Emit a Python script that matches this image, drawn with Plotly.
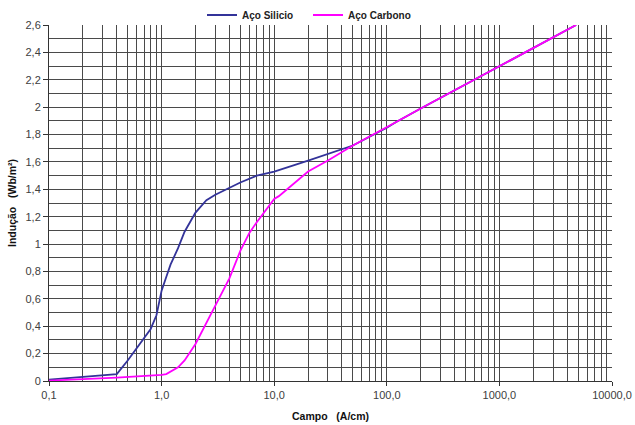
import plotly.graph_objects as go

# Data
si_h = [0.1, 0.4, 0.5, 0.6, 0.7, 0.8, 0.9, 1.0, 1.1, 1.2, 1.4, 1.6, 2.0, 2.5, 3.0, 4.0, 5.0, 7.0, 10.0, 20.0, 50.0, 100.0, 120.0, 200.0, 4800.0]
si_b = [0.01, 0.05, 0.15, 0.24, 0.31, 0.38, 0.48, 0.66, 0.76, 0.85, 0.97, 1.09, 1.23, 1.32, 1.36, 1.41, 1.45, 1.50, 1.53, 1.61, 1.72, 1.85, 1.89, 1.99, 2.60]

cs_h = [0.1, 0.4, 1.0, 1.1, 1.4, 1.6, 2.0, 2.5, 3.0, 4.0, 5.0, 6.0, 7.0, 10.0, 11.0, 20.0, 30.0, 50.0, 100.0, 120.0, 200.0, 4800.0]
cs_b = [0.003, 0.024, 0.045, 0.05, 0.10, 0.15, 0.27, 0.43, 0.55, 0.75, 0.95, 1.08, 1.16, 1.33, 1.35, 1.53, 1.61, 1.72, 1.85, 1.89, 1.99, 2.60]

x_major = [0.1, 1, 10, 100, 1000, 10000]
x_labels = ["0,1", "1,0", "10,0", "100,0", "1000,0", "10000,0"]
y_major = [round(0.2 * i, 1) for i in range(14)]
y_labels = [("%g" % v).replace(".", ",") for v in y_major]

x_minor = [m * 10 ** e for e in range(-1, 4) for m in range(1, 10) if not (e == -1 and m == 1)]
y_minor = [round(0.1 * i, 1) for i in range(1, 26)]

FONT = "Liberation Sans, Arial, sans-serif"
GRID = "#4a4a4a"
NB = "\u00a0"

fig = go.Figure()
fig.add_trace(go.Scatter(x=si_h, y=si_b, mode="lines", name="Aço Silicio",
                         line=dict(color="#333399", width=1.8)))
fig.add_trace(go.Scatter(x=cs_h, y=cs_b, mode="lines", name="Aço Carbono",
                         line=dict(color="#FF00FF", width=1.8)))

fig.update_layout(
    width=635, height=425,
    margin=dict(l=49, r=23, t=25, b=44, autoexpand=False),
    paper_bgcolor="white", plot_bgcolor="white",
    font=dict(family=FONT, size=11, color="#404040"),
    showlegend=True,
    legend=dict(orientation="h", x=202 / 635, y=1 - 15 / 425, xref="container", yref="container",
                xanchor="left", yanchor="middle",
                font=dict(family=FONT, size=10, color="#222222", weight="bold"),
                bgcolor="rgba(0,0,0,0)", itemwidth=30, tracegroupgap=0,
                entrywidth=61),
    xaxis=dict(
        type="log", range=[-1, 4], automargin=False,
        tickvals=x_major, ticktext=x_labels,
        ticks="outside", ticklen=4, tickcolor="#333333",
        showgrid=False, showline=True, linecolor="#333333", linewidth=1,
        zeroline=False,
        minor=dict(tickvals=x_minor, showgrid=True, gridcolor=GRID, gridwidth=1, ticks=""),
        title=dict(text="<b>Campo" + NB * 3 + "(A/cm)</b>", font=dict(family=FONT, size=10.5, color="#111111"), standoff=12),
    ),
    yaxis=dict(
        range=[0, 2.6], automargin=False,
        tickvals=y_major, ticktext=y_labels,
        ticks="outside", ticklen=5, tickcolor="#333333",
        showgrid=False, showline=True, linecolor="#333333", linewidth=1,
        zeroline=False,
        minor=dict(tickvals=y_minor, showgrid=True, gridcolor=GRID, gridwidth=1, ticks=""),
        title=dict(text="<b>Indução" + NB * 3 + "(Wb/m²)</b>", font=dict(family=FONT, size=10.5, color="#111111"), standoff=6),
    ),
)

fig.write_html("out.html", config={"displayModeBar": False},
               post_script="document.body.style.margin='0';")
